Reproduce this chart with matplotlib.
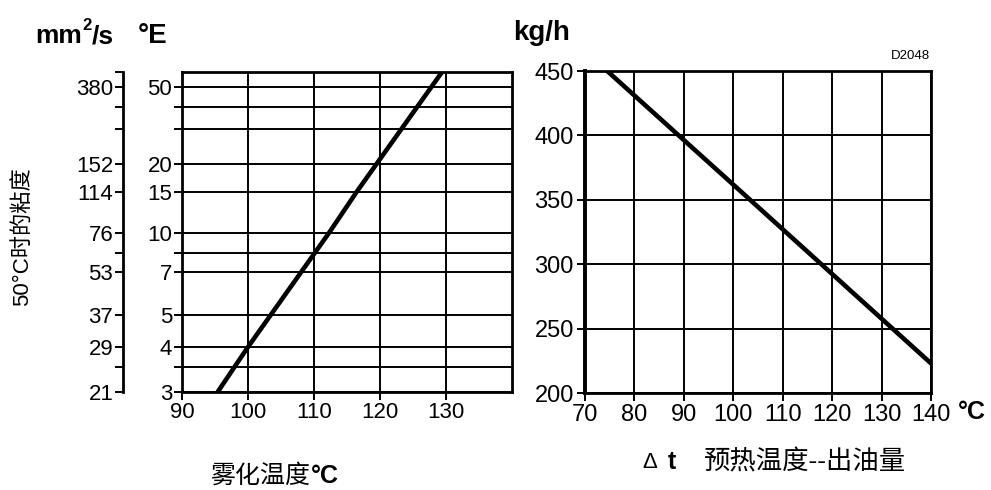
import matplotlib
matplotlib.use('Agg')
import matplotlib.pyplot as plt
import numpy as np

plt.rcParams['font.family'] = ['Liberation Sans', 'Noto Sans CJK SC', 'DejaVu Sans']

# left chart: atomizing temperature vs viscosity at 50 C
atom_temp = [95.4, 100.0, 112.3, 116.5, 129.4]
visc_mm2s = [21, 29, 76, 114, 462]

# horizontal grid positions (mm2/s) with their Engler / mm2/s labels
visc_grid = [21, 25, 29, 37, 53, 63, 76, 114, 152, 228, 295, 380]
engler_labels = ['3', '', '4', '5', '7', '', '10', '15', '20', '', '', '50']
mm2s_labels = ['21', '', '29', '37', '53', '', '76', '114', '152', '', '', '380']
atom_xticks = [90, 100, 110, 120, 130]

# right chart: preheat temperature vs oil output
preheat_temp = [74.5, 103.4, 140.0]
oil_output = [450, 350, 223]
preheat_xticks = [70, 80, 90, 100, 110, 120, 130, 140]
output_yticks = [200, 250, 300, 350, 400, 450]

W, H = 991, 490


def px(x, y):
    return x / W, 1 - y / H


def walther(v):
    v = np.maximum(np.asarray(v, dtype=float), 1.0)
    return np.log10(np.log10(v + 0.7))


def walther_inv(u):
    return 10 ** (10 ** np.asarray(u, dtype=float)) - 0.7


fig = plt.figure(figsize=(W / 100, H / 100), dpi=100)

# ---- left chart ----
ax1 = fig.add_axes([182 / W, 1 - 392 / H, 330 / W, 320 / H])
ax1.set_yscale('function', functions=(walther, walther_inv))
ax1.set_xlim(90, 140)
ax1.set_ylim(21, 462)
ax1.plot(atom_temp, visc_mm2s, color='black', lw=3.3, solid_capstyle='butt')
ax1.set_xticks(atom_xticks)
ax1.set_yticks(visc_grid, engler_labels)
ax1.yaxis.set_minor_locator(matplotlib.ticker.NullLocator())
ax1.grid(True, color='black', lw=1.4)
ax1.tick_params(direction='out', length=6, width=1.4, labelsize=16, pad=1, colors='black')
for s in ax1.spines.values():
    s.set_linewidth(2)

ax2 = ax1.twinx()
ax2.set_yscale('function', functions=(walther, walther_inv))
ax2.set_ylim(21, 462)
ax2.set_yticks(visc_grid + [462], mm2s_labels + [''])
ax2.yaxis.set_minor_locator(matplotlib.ticker.NullLocator())
ax2.yaxis.tick_left()
ax2.spines['left'].set_position(('axes', -59 / 330))
ax2.spines['left'].set_linewidth(2)
for k in ['right', 'top', 'bottom']:
    ax2.spines[k].set_visible(False)
ax2.tick_params(direction='out', length=6, width=1.4, labelsize=16, pad=1)

# ---- right chart ----
ax3 = fig.add_axes([585 / W, 1 - 393 / H, 346 / W, 322 / H])
ax3.set_xlim(70, 140)
ax3.set_ylim(200, 450)
ax3.plot(preheat_temp, oil_output, color='black', lw=3.3)
ax3.set_xticks(preheat_xticks)
ax3.set_yticks(output_yticks)
ax3.grid(True, color='black', lw=1.4)
ax3.tick_params(direction='out', length=6, width=1.4, labelsize=17, pad=2)
for s in ax3.spines.values():
    s.set_linewidth(2)
ax3.spines['left'].set_linewidth(2.8)

# ---- texts ----
fig.text(*px(35, 36), 'mm', fontsize=19, fontweight='bold', ha='left', va='center')
fig.text(*px(82, 25), '2', fontsize=12, fontweight='bold', ha='left', va='center')
fig.text(*px(92, 36), '/s', fontsize=19, fontweight='bold', ha='left', va='center')
fig.text(*px(138, 36), '°E', fontsize=20, fontweight='bold', ha='left', va='center')
fig.text(*px(513, 33), 'kg/h', fontsize=20, fontweight='bold', ha='left', va='center')
fig.text(*px(930, 56), 'D2048', fontsize=9.5, ha='right', va='center')

fig.text(*px(23, 237), '50°C时的粘度', fontsize=16, rotation=90, ha='center', va='center')

fig.text(*px(310, 476), '雾化温度', fontsize=18, ha='right', va='center')
fig.text(*px(311, 476), '°C', fontsize=18, fontweight='bold', ha='left', va='center')

fig.text(*px(642, 462), 'Δ', fontsize=16, ha='left', va='center')
fig.text(*px(668, 462), 't', fontsize=18, fontweight='bold', ha='left', va='center')
fig.text(*px(704, 462), '预热温度--出油量', fontsize=19, ha='left', va='center')
fig.text(*px(958, 412), '°C', fontsize=18, fontweight='bold', ha='left', va='center')

fig.savefig('out.png', dpi=100)
